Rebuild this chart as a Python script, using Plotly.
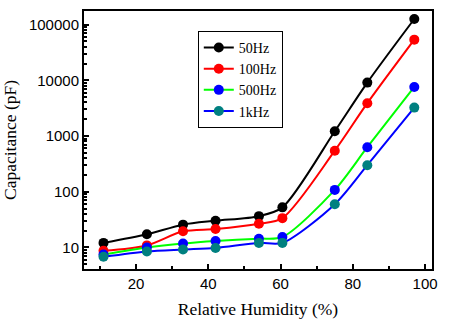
import plotly.graph_objects as go

# Relative humidity (%) at which capacitance was measured
humidity = [11, 23, 33, 42, 54, 60.5, 75, 84, 97]

# Capacitance (pF) at each test frequency
cap_50hz = [12.1, 17.3, 25.7, 30.2, 36.5, 52.5, 1220, 9100, 126000]
cap_100hz = [8.7, 10.9, 19.5, 21.4, 26.7, 33.6, 546, 3890, 53700]
cap_500hz = [7.5, 10.0, 11.8, 13.1, 14.4, 15.4, 108, 630, 7600]
cap_1khz = [6.8, 8.5, 9.2, 9.8, 12.1, 12.1, 59.7, 300, 3240]

series = [
    ("50Hz", cap_50hz, "#000000", "#000000"),
    ("100Hz", cap_100hz, "#FF0000", "#FF0000"),
    ("500Hz", cap_500hz, "#00FF00", "#0000FF"),
    ("1kHz", cap_1khz, "#0000FF", "#008080"),
]

fig = go.Figure()
for name, vals, line_color, marker_color in series:
    fig.add_trace(go.Scatter(
        x=humidity, y=vals, name=name, mode="lines+markers",
        line=dict(color=line_color, width=2, shape="spline", smoothing=0.8),
        marker=dict(color=marker_color, size=10),
    ))

serif = "Liberation Serif, Times New Roman, serif"
sans = "Liberation Sans, Arial, sans-serif"

fig.update_layout(
    width=450, height=325,
    margin=dict(l=80, r=18, t=9, b=56),
    paper_bgcolor="white", plot_bgcolor="white",
    showlegend=True,
    legend=dict(
        x=0.327, y=0.923, xanchor="left", yanchor="top",
        bordercolor="black", borderwidth=1, bgcolor="white",
        font=dict(family=serif, size=14, color="black"),
        itemwidth=30, tracegroupgap=0,
    ),
    xaxis=dict(
        range=[5.6, 101.9], dtick=20, tick0=0,
        ticks="inside", ticklen=5, tickwidth=1.5, tickcolor="black",
        minor=dict(ticks="inside", ticklen=3, dtick=10, tick0=0, tickcolor="black"),
        showline=True, linecolor="black", linewidth=2, mirror=True,
        showgrid=False, zeroline=False,
        tickfont=dict(family=sans, size=15, color="black"),
        title=dict(text="Relative Humidity (%)", font=dict(family=serif, size=17.5, color="black"), standoff=12),
    ),
    yaxis=dict(
        type="log", range=[0.614, 5.244], dtick=1,
        tickformat="d",
        ticks="inside", ticklen=5, tickwidth=1.5, tickcolor="black",
        minor=dict(ticks="inside", ticklen=3, dtick="D1", tickcolor="black"),
        showline=True, linecolor="black", linewidth=2, mirror=True,
        showgrid=False, zeroline=False,
        tickfont=dict(family=sans, size=15, color="black"),
        title=dict(text="Capacitance (pF)", font=dict(family=serif, size=17.5, color="black"), standoff=8),
    ),
)

fig.write_html("out.html")
